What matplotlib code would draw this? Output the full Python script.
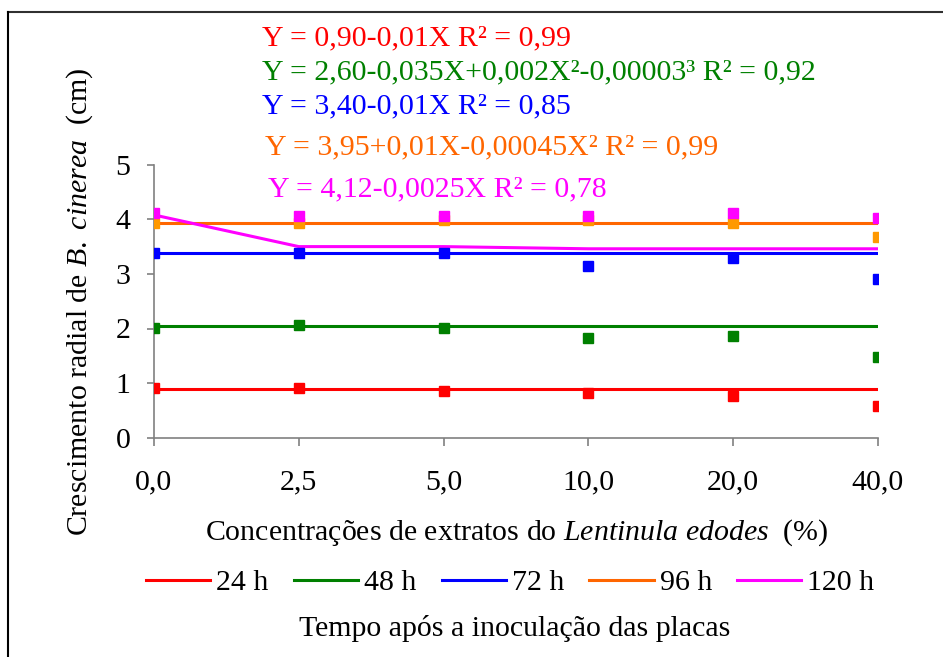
import matplotlib.pyplot as plt
from matplotlib.lines import Line2D

plt.rcParams['font.family'] = ['Liberation Serif', 'DejaVu Serif']
plt.rcParams['mathtext.fontset'] = 'custom'
plt.rcParams['mathtext.rm'] = 'Liberation Serif'
plt.rcParams['mathtext.it'] = 'Liberation Serif:italic'

# Concentrations (categorical axis) and observed radial growth per incubation time
concentracoes = ['0,0', '2,5', '5,0', '10,0', '20,0', '40,0']
tempos = ['24 h', '48 h', '72 h', '96 h', '120 h']

obs_24 = [0.91, 0.91, 0.86, 0.82, 0.77, 0.58]
obs_48 = [2.01, 2.06, 2.01, 1.82, 1.86, 1.48]
obs_72 = [3.39, 3.39, 3.39, 3.15, 3.29, 2.91]
obs_96 = [3.94, 3.94, 3.99, 3.99, 3.94, 3.68]
obs_120 = [4.11, 4.06, 4.06, 4.06, 4.11, 4.02]

# Fitted regression curves at each concentration
fit_24 = [0.90, 0.90, 0.90, 0.90, 0.90, 0.90]
fit_48 = [2.04, 2.04, 2.04, 2.04, 2.04, 2.04]
fit_72 = [3.38, 3.38, 3.38, 3.38, 3.38, 3.38]
fit_96 = [3.94, 3.94, 3.94, 3.94, 3.94, 3.94]
fit_120 = [4.08, 3.50, 3.50, 3.46, 3.46, 3.46]

equacoes = [
    'Y = 0,90-0,01X R² = 0,99',
    'Y = 2,60-0,035X+0,002X²-0,00003³ R² = 0,92',
    'Y = 3,40-0,01X R² = 0,85',
    'Y = 3,95+0,01X-0,00045X² R² = 0,99',
    'Y = 4,12-0,0025X R² = 0,78',
]

line_colors = ['#FF0000', '#008000', '#0000FF', '#FF6600', '#FF00FF']
marker_colors = ['#FF0000', '#008000', '#0000FF', '#FF9900', '#FF00FF']

observados = [obs_24, obs_48, obs_72, obs_96, obs_120]
ajustados = [fit_24, fit_48, fit_72, fit_96, fit_120]

fs = 21.5

fig = plt.figure(figsize=(9.43, 6.57), dpi=100)
ax = fig.add_axes([0.1633, 0.3338, 0.7677, 0.4155])

x = list(range(len(concentracoes)))
for fit, cor in zip(ajustados, line_colors):
    ax.plot(x, fit, color=cor, lw=2.2, zorder=2)
for obs, cor in zip(observados, marker_colors):
    ax.plot(x, obs, ls='none', marker='s', ms=7.5, color=cor, zorder=3)

ax.set_xlim(0, 5)
ax.set_ylim(0, 5)
ax.set_xticks(x)
ax.set_xticklabels(concentracoes)
ax.set_yticks(range(6))
ax.spines['top'].set_visible(False)
ax.spines['right'].set_visible(False)
for s in ['left', 'bottom']:
    ax.spines[s].set_color('#808080')
    ax.spines[s].set_linewidth(1.2)
    ax.spines[s].set_zorder(1)
ax.tick_params(axis='x', direction='out', length=6, width=1.2, color='#808080',
               labelsize=fs, pad=17)
ax.tick_params(axis='y', direction='out', length=5, width=1.2, color='#808080',
               labelsize=fs, pad=12)

fig.text(0.084, 0.54, r'Crescimento radial de $\mathit{B.\ cinerea}$  (cm)',
         rotation=90, ha='center', va='center', fontsize=fs)
fig.text(0.548, 1 - 533 / 657,
         r'Concentrações de extratos do $\mathit{Lentinula\ edodes}$  (%)',
         ha='center', va='center', fontsize=fs)

# regression equations stacked above the plot
eq_y = [38, 72, 106, 147, 189]
eq_x = [262, 262, 262, 265, 268]
for eq, cor, xp, yp in zip(equacoes, line_colors, eq_x, eq_y):
    fig.text(xp / 943, 1 - yp / 657, eq, color=cor, fontsize=fs,
             ha='left', va='center')

handles = [Line2D([0], [0], color=c, lw=2.2) for c in line_colors]
fig.legend(handles, tempos, loc='center', bbox_to_anchor=(0.541, 1 - 583 / 657),
           ncol=5, frameon=False, fontsize=fs, handlelength=2.15,
           handletextpad=0.2, columnspacing=0.85)
fig.text(0.546, 1 - 628 / 657, 'Tempo após a inoculação das placas',
         ha='center', va='center', fontsize=fs)

# outer frame: top and left edges
fig.add_artist(Line2D([8 / 943, 1], [1 - 12 / 657, 1 - 12 / 657],
                      color='#303030', lw=1.5, transform=fig.transFigure))
fig.add_artist(Line2D([8 / 943, 8 / 943], [0, 1 - 12 / 657],
                      color='black', lw=1.5, transform=fig.transFigure))

fig.savefig('out.png', dpi=100)
